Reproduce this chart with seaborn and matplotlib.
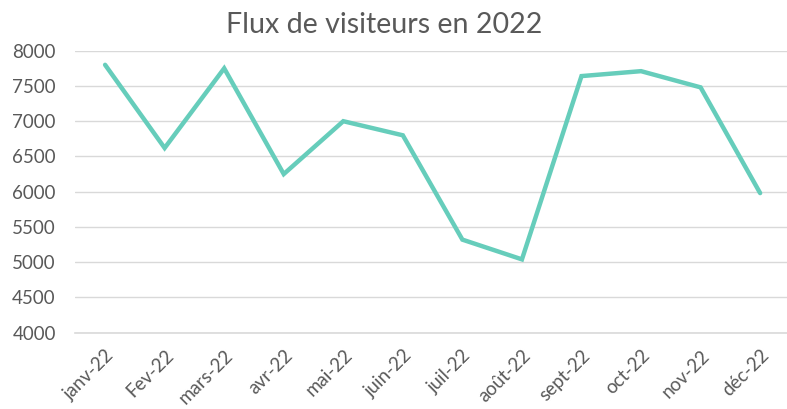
import numpy as np
import pandas as pd
import matplotlib
matplotlib.use("Agg")
import matplotlib.pyplot as plt
import seaborn as sns

months = ["janv-22", "Fev-22", "mars-22", "avr-22", "mai-22", "juin-22",
          "juil-22", "août-22", "sept-22", "oct-22", "nov-22", "déc-22"]
visitors = [7800, 6620, 7750, 6250, 7000, 6800, 5320, 5040, 7640, 7710, 7480, 5980]
y_ticks = [4000, 4500, 5000, 5500, 6000, 6500, 7000, 7500, 8000]

df = pd.DataFrame({"mois": months, "visiteurs": visitors})
df["pos"] = range(len(months))

sns.set_theme(style="white")
plt.rcParams["font.family"] = ["Lato", "DejaVu Sans"]

text_color = "#595959"
grid_color = "#D9D9D9"

fig = plt.figure(figsize=(7.87, 4.09), dpi=100)
ax = fig.add_axes([0.0957, 0.1866, 0.908, 0.6894])

sns.lineplot(data=df, x="pos", y="visiteurs", ax=ax, color="#66CDBB",
             linewidth=3.2, solid_joinstyle="miter", solid_capstyle="round")

ax.set_xlim(-0.5, 11.5)
ax.set_ylim(4000, 8000)
ax.set_yticks(y_ticks)
ax.set_yticklabels([str(v) for v in y_ticks], color=text_color, fontsize=13.5)
ax.set_xticks(df["pos"])
ax.set_xticklabels(months, rotation=45, ha="right", rotation_mode="anchor",
                   color=text_color, fontsize=13.5)
ax.set_xticks(np.arange(-0.5, 12, 1), minor=True)
ax.tick_params(axis="x", which="major", length=0, pad=10)
ax.tick_params(axis="x", which="minor", length=5, color=grid_color, width=1)
ax.tick_params(axis="y", length=0, pad=14)

ax.grid(axis="y", color=grid_color, linewidth=1)
ax.set_axisbelow(True)
for side in ["left", "right", "top"]:
    ax.spines[side].set_visible(False)
ax.spines["bottom"].set_color(grid_color)
ax.spines["bottom"].set_linewidth(1.2)
ax.set_xlabel("")
ax.set_ylabel("")

fig.text(0.4886, 0.939, "Flux de visiteurs en 2022", ha="center", va="center",
         fontsize=20.6, color=text_color)

plt.savefig("out.png", dpi=100)
